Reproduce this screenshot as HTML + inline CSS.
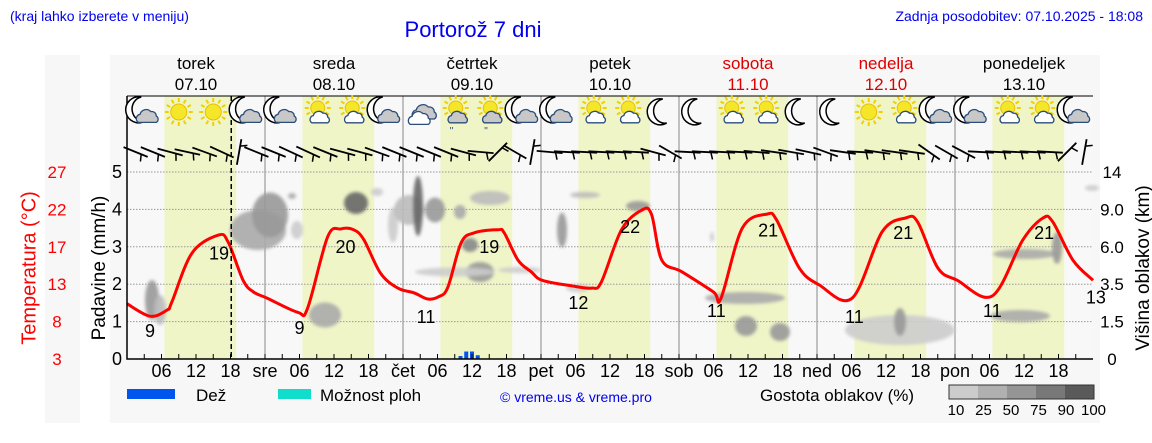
<!DOCTYPE html>
<html><head><meta charset="utf-8"><style>
html,body{margin:0;padding:0;background:#fff;}
svg{display:block;font-family:"Liberation Sans","DejaVu Sans",sans-serif;}
</style></head><body>
<svg id="chart" width="1152" height="443" viewBox="0 0 1152 443" xmlns="http://www.w3.org/2000/svg">
<defs><filter id="blur" x="-30%" y="-30%" width="160%" height="160%"><feGaussianBlur stdDeviation="1.5"/></filter></defs>
<rect x="45" y="55" width="35" height="368" fill="#f7f7f7"/>
<rect x="110" y="55" width="990" height="368" fill="#f7f7f7"/>
<text x="10" y="21" font-size="14" fill="#0000ee">(kraj lahko izberete v meniju)</text>
<text x="473" y="37" font-size="22" fill="#0000ee" text-anchor="middle">Portorož 7 dni</text>
<text x="1143" y="21" font-size="14" fill="#0000ee" text-anchor="end">Zadnja posodobitev: 07.10.2025 - 18:08</text>
<g id="plot"></g>
</svg>
<script>
const dayNames=["torek","sreda","četrtek","petek","sobota","nedelja","ponedeljek"];
const dayDates=["07.10","08.10","09.10","10.10","11.10","12.10","13.10"];
const dayAbbr=["sre","čet","pet","sob","ned","pon"];
const weekend=[false,false,false,false,true,true,false];
const tempHours=[0,4,7,7.8,11.3,15.9,17.6,20.2,22,24.4,29.7,31.4,34.9,37.2,39.4,41.2,44.1,47.1,49.9,52.3,54.2,55.8,58.1,60.4,64.5,65.6,68,70.3,72.2,77.3,80.8,82.5,86,89.5,91.2,93,96.5,102,103.3,107,111.3,113,116.9,120.4,126.1,131.3,135.4,137.5,141,144.4,150.5,155.8,159.3,161,164.5,168];
const tempValues=[10.1,8.5,9.3,10.3,16.6,18.9,18.0,13.1,11.6,10.8,9.0,9.5,18.7,19.7,19.6,18.3,14.0,12.1,11.5,10.7,11.0,12.2,17.9,19.2,19.6,19.2,15.7,14.2,13.1,12.4,12.1,12.9,19.6,22.1,21.6,15.7,14.2,11.6,10.8,19.8,21.6,20.8,14.7,12.5,10.8,19.3,21.1,20.6,14.7,13.1,11.1,18.3,21.1,20.6,15.7,13.1];
const labelHours=[4,16,30,38,52,63,78.5,87.5,102.5,111.5,126.5,135,150.5,159.5,168.5];
const labelTexts=["9","19","9","20","11","19","12","22","11","21","11","21","11","21","13"];
const labelValues=[6.7,16.7,7.1,17.5,8.5,17.5,10.3,20.1,9.3,19.6,8.5,19.3,9.3,19.3,11];
const precipHours=[58,59,60,61];
const precipValues=[0.08,0.2,0.2,0.1];
const precipTicks=[0,1,2,3,4,5];
const tempTicks=["27","22","17","13","8","3"];
const cloudTicks=["14","9.0","6.0","3.5","1.5","0"];
const iconTypes=["mc","s","s","mc","mc","sc","sc","mc","c","scr","scr","mc","mc","sc","sc","m","m","sc","sc","m","m","s","sc","mc","mc","sc","sc","mc"];
const windAngles=[22,22,15,12,20,25,-80,22,22,25,25,22,15,15,20,22,22,22,22,15,5,-45,30,-80,5,3,3,3,3,3,15,30,3,3,3,3,5,8,10,12,20,8,3,8,8,8,35,30,28,3,3,3,3,3,-45,-80];

const NS="http://www.w3.org/2000/svg";
const g=document.getElementById('plot');
const X0=127,DAYW=138,Y0=359;
const xOf=h=>X0+h*DAYW/24;
const yP=v=>Y0-v*37.4;
const yT=t=>Y0-(t-3)*7.79;
function mk(tag,attrs,parent){const e=document.createElementNS(NS,tag);for(const k in attrs)e.setAttribute(k,attrs[k]);(parent||g).appendChild(e);return e;}

let bg=mk('rect',{x:X0,y:96,width:966,height:263,fill:'#f8f8f8'});


for(let d=0;d<7;d++){
  const s=mk('rect',{x:xOf(d*24+6.5),y:96,width:xOf(d*24+19)-xOf(d*24+6.5),height:263,fill:'#f0f5c8'});
  
  
}
for(let d=1;d<7;d++){
  const l=mk('line',{x1:xOf(d*24),x2:xOf(d*24),y1:96,y2:359,stroke:'#888','stroke-width':1});
  
  
}
precipTicks.forEach(v=>{
  if(v>0){const l=mk('line',{x1:X0,x2:X0+966,y1:yP(v),y2:yP(v),stroke:'#999','stroke-dasharray':'1.5,1.5','stroke-width':1});
  
  }
  const t=mk('text',{x:122,y:yP(v)+6,'font-size':18,'text-anchor':'end',fill:'#000'});t.textContent=v;
  
  
});
tempTicks.forEach((s,i)=>{
  const t=mk('text',{x:57,y:yP(5-i)+6,'font-size':17,'text-anchor':'middle',fill:'#ff0000'});t.textContent=s;
  
  
});
cloudTicks.forEach((s,i)=>{
  const t=mk('text',{x:1112,y:yP(5-i)+6,'font-size':17,'text-anchor':'middle',fill:'#000'});t.textContent=s;
  
  
});
const cg=mk('g',{filter:'url(#blur)'});


[[152,300,7,40,'#999'],[160,310,6,30,'#bbb'],[258,230,28,40,'#aaa'],[270,215,18,45,'#999'],[297,230,6,18,'#ccc'],[292,196,4,6,'#aaa'],[325,315,16,25,'#aaa'],[356,203,12,22,'#666'],[377,192,6,8,'#ccc'],[393,225,5,35,'#ccc'],[409,210,15,30,'#bbb'],[418,206,5,60,'#666'],[435,210,10,25,'#999'],[460,212,6,14,'#aaa'],[470,245,8,14,'#888'],[480,272,14,20,'#999'],[455,272,40,9,'#ccc'],[520,270,22,6,'#ccc'],[490,198,20,14,'#bbb'],[562,230,5,35,'#999'],[585,195,15,6,'#bbb'],[638,206,12,10,'#999'],[578,288,12,8,'#ccc'],[712,237,2,10,'#ccc'],[745,298,40,12,'#aaa'],[746,326,11,20,'#999'],[780,332,10,18,'#999'],[900,330,55,30,'#ccc'],[900,322,6,28,'#999'],[1020,316,30,12,'#aaa'],[1025,254,32,10,'#aaa'],[1057,248,5,32,'#999'],[1092,188,7,6,'#ccc']].forEach(c=>{
  mk('ellipse',{cx:c[0],cy:c[1],rx:c[2],ry:c[3]/2,fill:c[4],opacity:0.9},cg);
});
precipHours.forEach((h,i)=>{
  const r=mk('rect',{x:xOf(h)-2,y:yP(precipValues[i]),width:4,height:Y0-yP(precipValues[i]),fill:'#0055ee'});
  
  
});
// smooth temp line (Catmull-Rom)
const pts=tempHours.map((h,i)=>[xOf(h),yT(tempValues[i])]);
let pd='M'+pts[0][0].toFixed(1)+','+pts[0][1].toFixed(1);
for(let i=0;i<pts.length-1;i++){
  const p0=pts[Math.max(0,i-1)],p1=pts[i],p2=pts[i+1],p3=pts[Math.min(pts.length-1,i+2)];
  const c1=[p1[0]+(p2[0]-p0[0])/6,p1[1]+(p2[1]-p0[1])/6],c2=[p2[0]-(p3[0]-p1[0])/6,p2[1]-(p3[1]-p1[1])/6];
  pd+=`C${c1[0].toFixed(1)},${c1[1].toFixed(1)} ${c2[0].toFixed(1)},${c2[1].toFixed(1)} ${p2[0].toFixed(1)},${p2[1].toFixed(1)}`;
}
const tl=mk('path',{d:pd,fill:'none',stroke:'#ff0000','stroke-width':3,'stroke-linejoin':'round'});


labelHours.forEach((h,i)=>{
  const t=mk('text',{x:xOf(h),y:yT(labelValues[i])+7,'font-size':18,'text-anchor':'middle',fill:'#000'});t.textContent=labelTexts[i];
  
  
});
const nl=mk('line',{x1:xOf(18.13),x2:xOf(18.13),y1:96,y2:359,stroke:'#000','stroke-width':1.5,'stroke-dasharray':'5,3'});


const fr=mk('path',{d:`M${X0},96V359H${X0+966}`,fill:'none',stroke:'#000','stroke-width':1.5});


mk('line',{x1:X0,x2:X0+966,y1:96,y2:96,stroke:'#000','stroke-width':1});
for(let h=3;h<168;h+=3){mk('line',{x1:xOf(h),x2:xOf(h),y1:359,y2:354,stroke:'#000','stroke-width':1});}
for(let d=0;d<7;d++){
  [6,12,18].forEach(hh=>{const t=mk('text',{x:xOf(d*24+hh),y:377,'font-size':18,'text-anchor':'middle'});t.textContent=(hh<10?'0':'')+hh;
  
  });
  if(d>0){const t=mk('text',{x:xOf(d*24),y:377,'font-size':18,'text-anchor':'middle'});t.textContent=dayAbbr[d-1];
  
  }
  const n=mk('text',{x:xOf(d*24+12),y:69,'font-size':17,'text-anchor':'middle',fill:weekend[d]?'#dd0000':'#000'});n.textContent=dayNames[d];
  
  
  const dt=mk('text',{x:xOf(d*24+12),y:90,'font-size':17,'text-anchor':'middle',fill:weekend[d]?'#dd0000':'#000'});dt.textContent=dayDates[d];
  
  
}
function sun(p,x,y,r){for(let a=0;a<360;a+=30){const rad=a*Math.PI/180;mk('line',{x1:x+Math.cos(rad)*(r+2),y1:y+Math.sin(rad)*(r+2),x2:x+Math.cos(rad)*(r+6),y2:y+Math.sin(rad)*(r+6),stroke:'#f0d000','stroke-width':2},p);}mk('circle',{cx:x,cy:y,r:r,fill:'#f5e62a',stroke:'#e8c000'},p);}
function moon(p,x,y){mk('path',{d:`M${x+3},${y-13} A13,13 0 1,0 ${x+7},${y+11} A11,12 0 0,1 ${x+3},${y-13}Z`,fill:'#fff',stroke:'#000','stroke-width':1.5},p);}
function cloud(p,x,y,s,fill){mk('path',{d:`M${x-10*s},${y+6*s} a${5*s},${5*s} 0 0,1 ${2*s},${-9*s} a${7*s},${7*s} 0 0,1 ${12*s},${-3*s} a${5*s},${5*s} 0 0,1 ${6*s},${5*s} a${4*s},${4*s} 0 0,1 0,${7*s} Z`,fill:fill,stroke:'#2a4d7a','stroke-width':1.3},p);}
iconTypes.forEach((tp,i)=>{
  const cx=xOf(3+6*i),cy=112;
  const ig=mk('g',{});
  
  
  if(tp==='s')sun(ig,cx,cy,8);
  if(tp==='m')moon(ig,cx-2,cy);
  if(tp==='mc'){moon(ig,cx-6,cy-2);cloud(ig,cx+3,cy+5,0.9,'#c8c8c8');}
  if(tp==='sc'||tp==='scr'){sun(ig,cx+1,cy-4,7);cloud(ig,cx+3,cy+6,0.8,tp==='scr'?'#c8c8c8':'#fff');if(tp==='scr'){mk('text',{x:cx-5,y:cy+22,'font-size':10,fill:'#2a4d7a'},ig).textContent='"';}}
  if(tp==='c'){cloud(ig,cx+4,cy+1,1,'#c8c8c8');cloud(ig,cx-1,cy+7,0.9,'#fff');}
});
windAngles.forEach((a,i)=>{
  const cx=xOf(1.5+3*i),cy=152;
  const wg=mk('g',{transform:`translate(${cx},${cy}) rotate(${a})`});
  
  
  mk('line',{x1:-13,y1:0,x2:13,y2:0,stroke:'#000','stroke-width':1.8},wg);
  mk('line',{x1:6,y1:0,x2:8,y2:7,stroke:'#000','stroke-width':1.5},wg);
});
const at=[["Temperatura (°C)",30,268,'#ff0000','temp-axis-title',20],["Padavine (mm/h)",100,268,'#000','precip-axis-title',19],["Višina oblakov (km)",1144,268,'#000','cloud-axis-title',19]];
at.forEach(a=>{const t=mk('text',{x:a[1],y:a[2],'font-size':a[5],'text-anchor':'middle',fill:a[3],transform:`rotate(-90 ${a[1]} ${a[2]})`,'dominant-baseline':'middle'});t.textContent=a[0];
  
  });
const l1=mk('rect',{x:127,y:389,width:48,height:10,fill:'#0055ee'});
const t1=mk('text',{x:196,y:401,'font-size':17});t1.textContent='Dež';
const l2=mk('rect',{x:278,y:389,width:33,height:10,fill:'#11ddcc'});
const t2=mk('text',{x:320,y:401,'font-size':17});t2.textContent='Možnost ploh';
const t3=mk('text',{x:500,y:402,'font-size':14,fill:'#0000ee'});t3.textContent='© vreme.us & vreme.pro';
const t4=mk('text',{x:760,y:401,'font-size':17});t4.textContent='Gostota oblakov (%)';
const shades=['#cccccc','#b0b0b0','#959595','#787878','#5a5a5a'];
const denTicks=['10','25','50','75','90','100'];
shades.forEach((c,i)=>{const r=mk('rect',{x:949+i*29,y:385,width:29,height:14,fill:c});});
mk('rect',{x:949,y:385,width:145,height:14,fill:'none',stroke:'#333'});
denTicks.forEach((s,i)=>{const t=mk('text',{x:956+i*27.5,y:415,'font-size':15,'text-anchor':'middle'});t.textContent=s;});
</script>
</body></html>
